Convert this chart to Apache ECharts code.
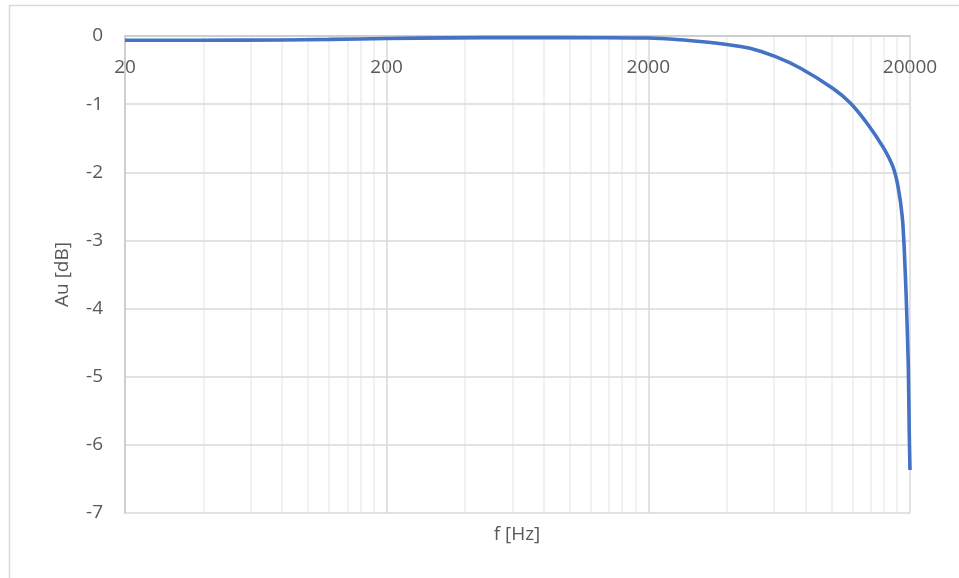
<!DOCTYPE html>
<html>
<head>
<meta charset="utf-8">
<script src="https://cdn.jsdelivr.net/npm/echarts@6/dist/echarts.min.js"></script>
<style>html,body{margin:0;padding:0;background:#fff}#c{width:959px;height:578px}</style>
</head>
<body>
<div id="c"></div>
<script>
const freqHz = [20, 38.7, 78, 121, 200, 349, 646, 1307, 2000, 2642, 3150, 3927, 4890, 6096, 7600, 10160, 11800, 13700, 15780, 17220, 18000, 18690, 19020, 19360, 19710, 19870, 20000];
const gainDb = [-0.063, -0.062, -0.059, -0.05, -0.037, -0.027, -0.022, -0.025, -0.03, -0.055, -0.08, -0.12, -0.18, -0.30, -0.47, -0.77, -0.98, -1.28, -1.63, -1.92, -2.21, -2.66, -3.14, -3.87, -4.86, -5.83, -6.37];
const xTickLabels = ['20', '200', '2000', '20000'];
const yTicks = [0, -1, -2, -3, -4, -5, -6, -7];

const fMin = Number(xTickLabels[0]);
const toX = f => Math.log10(f / fMin);
const seriesData = freqHz.map((f, i) => [toX(f), gainDb[i]]);

// minor log gridlines: k * decade start, k = 2..9
const minorLines = [];
for (let d = 0; d < xTickLabels.length - 1; d++) {
  const base = Number(xTickLabels[d]);
  for (let k = 2; k <= 9; k++) minorLines.push({ xAxis: toX(base * k) });
}

const txt = '#595959';
const font = 'Open Sans';
const chart = echarts.init(document.getElementById('c'), null, { renderer: 'canvas' });
chart.setOption({
  animation: false,
  backgroundColor: '#fff',
  grid: { left: 125, right: 49, top: 36, bottom: 65, containLabel: false },
  xAxis: {
    type: 'value', position: 'top', min: 0, max: xTickLabels.length - 1, interval: 1,
    axisLine: { show: true, onZero: false, lineStyle: { color: '#c8c8c8', width: 1.5 } },
    axisTick: { show: false },
    axisLabel: { inside: true, margin: 22, color: txt, fontFamily: font, fontSize: 19,
      formatter: v => xTickLabels[Math.round(v)] },
    splitLine: { show: true, lineStyle: { color: '#d9d9d9', width: 1.5 } }
  },
  yAxis: {
    type: 'value', min: Math.min(...yTicks), max: Math.max(...yTicks), interval: 1,
    axisLine: { show: true, onZero: false, lineStyle: { color: '#c8c8c8', width: 1.5 } },
    axisTick: { show: false },
    axisLabel: { margin: 22, color: txt, fontFamily: font, fontSize: 19 },
    splitLine: { show: true, lineStyle: { color: '#d9d9d9', width: 1.5 } },
    name: 'Au [dB]', nameLocation: 'middle', nameGap: 53,
    nameTextStyle: { color: txt, fontFamily: font, fontSize: 19 }
  },
  graphic: [
    { type: 'rect', shape: { x: 9.5, y: 5.5, width: 1200, height: 1200 },
      style: { fill: 'none', stroke: '#d9d9d9', lineWidth: 1.5 }, silent: true },
    { type: 'text', x: 517, y: 535,
      style: { text: 'f [Hz]', fill: txt, font: '19px "Open Sans"', textAlign: 'center', textVerticalAlign: 'middle' } }
  ],
  series: [
    { type: 'line', data: [], z: -1, silent: true,
      markLine: { silent: true, z: -1, symbol: ['none', 'none'], label: { show: false },
        lineStyle: { color: '#ececec', width: 1.5, type: 'solid' }, data: minorLines } },
    { type: 'line', data: seriesData, z: 5, showSymbol: false, smooth: 0.2,
      lineStyle: { color: '#4472C4', width: 3.6 }, itemStyle: { color: '#4472C4' } }
  ]
});
</script>
</body>
</html>
